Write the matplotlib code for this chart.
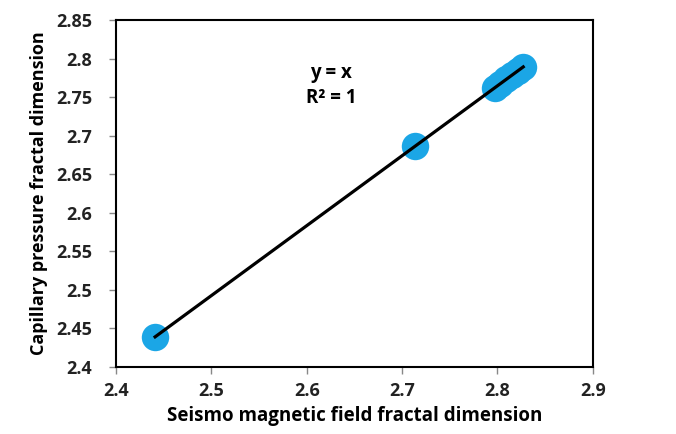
import numpy as np
import matplotlib.pyplot as plt

# fractal dimensions per sample
seismo_fd = [2.441, 2.713, 2.797, 2.803, 2.809, 2.815, 2.821, 2.827]
capillary_fd = [2.439, 2.686, 2.762, 2.767, 2.773, 2.778, 2.784, 2.789]

xticks = [2.4, 2.5, 2.6, 2.7, 2.8, 2.9]
yticks = [2.4, 2.45, 2.5, 2.55, 2.6, 2.65, 2.7, 2.75, 2.8, 2.85]

plt.rcParams['font.family'] = ['Open Sans', 'DejaVu Sans']

fig = plt.figure(figsize=(6.76, 4.34), dpi=100)
ax = fig.add_axes([0.1716, 0.1544, 0.7054, 0.7996])

ax.scatter(seismo_fd, capillary_fd, s=390, color='#1ba6e6', zorder=2, linewidths=0)

# trendline
k, b = np.polyfit(seismo_fd, capillary_fd, 1)
xl = np.array([min(seismo_fd), max(seismo_fd)])
ax.plot(xl, k * xl + b, color='black', lw=2.3, zorder=3)

ax.text(0.451, 0.847, 'y = x', transform=ax.transAxes, ha='center', va='center',
        fontsize=13.5, fontweight='bold')
ax.text(0.451, 0.775, 'R² = 1', transform=ax.transAxes, ha='center', va='center',
        fontsize=13.5, fontweight='bold')

ax.set_xlim(2.4, 2.9)
ax.set_ylim(2.4, 2.85)
ax.set_xticks(xticks)
ax.set_yticks(yticks)
ax.set_xticklabels([f'{v:g}' for v in xticks])
ax.set_yticklabels([f'{v:g}' for v in yticks])
for lbl in ax.get_xticklabels() + ax.get_yticklabels():
    lbl.set_fontweight('bold')
    lbl.set_fontsize(13)
    lbl.set_color('#222222')
ax.tick_params(direction='out', length=5, width=1, color='#888888')
ax.tick_params(axis='x', pad=6)
ax.tick_params(axis='y', pad=12)
for sp in ax.spines.values():
    sp.set_linewidth(1.5)

ax.set_xlabel('Seismo magnetic field fractal dimension', fontsize=13.5, fontweight='bold', labelpad=4)
ax.set_ylabel('Capillary pressure fractal dimension', fontsize=13, fontweight='bold', labelpad=6)

fig.savefig('out.png', dpi=100)
